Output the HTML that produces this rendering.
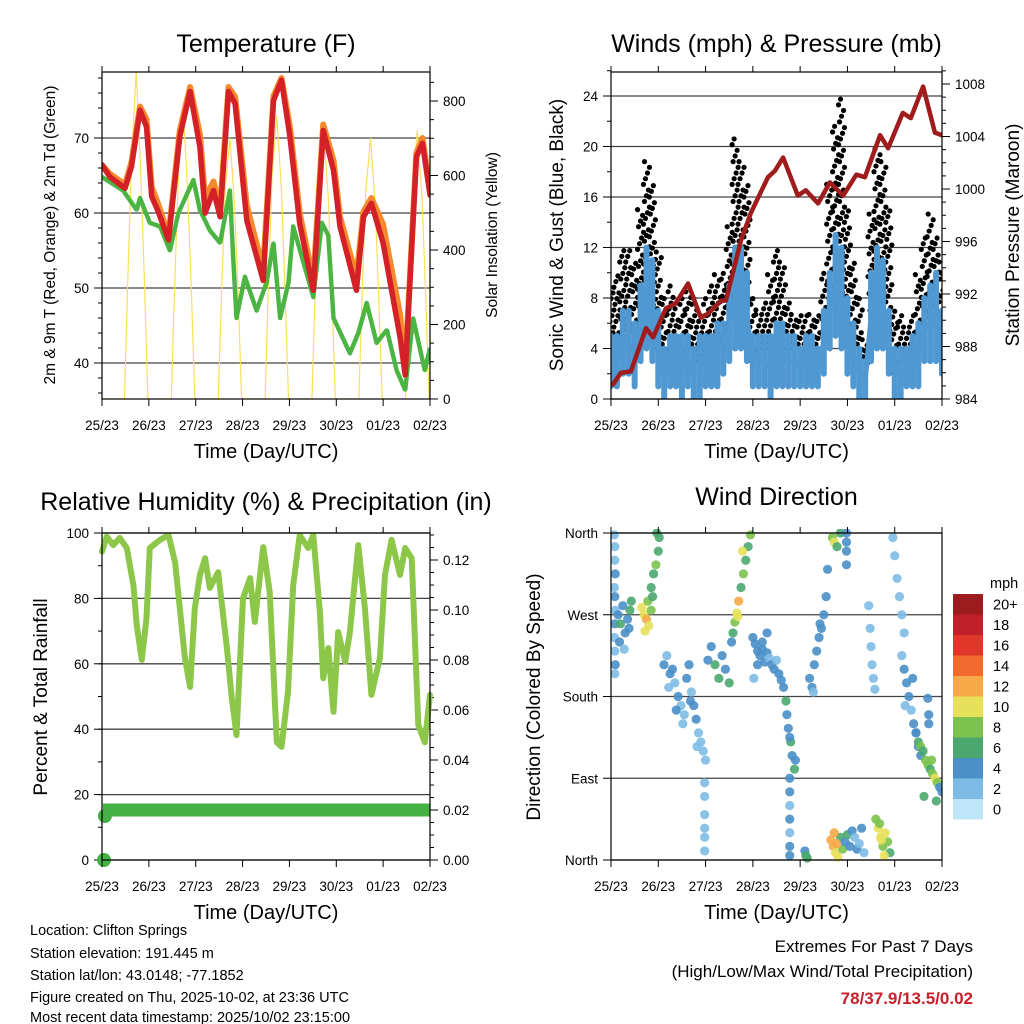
<!DOCTYPE html>
<html><head><meta charset="utf-8">
<style>
html,body{margin:0;padding:0;background:#fff;}
svg{display:block;font-family:"Liberation Sans",Arial,sans-serif;}
</style></head>
<body>
<svg id="chart" width="1024" height="1024" viewBox="0 0 1024 1024" xmlns="http://www.w3.org/2000/svg">
<g id="layer"></g>
<g font-size="14.5" fill="#000">
<text x="30" y="935">Location: Clifton Springs</text>
<text x="30" y="958">Station elevation: 191.445 m</text>
<text x="30" y="980">Station lat/lon: 43.0148; -77.1852</text>
<text x="30" y="1002">Figure created on Thu, 2025-10-02, at 23:36 UTC</text>
<text x="30" y="1024" dy="-2">Most recent data timestamp: 2025/10/02 23:15:00</text>
</g>
<g text-anchor="end">
<text x="973" y="952" font-size="17">Extremes For Past 7 Days</text>
<text x="973" y="977" font-size="17">(High/Low/Max Wind/Total Precipitation)</text>
<text x="973" y="1004" font-size="17" font-weight="bold" fill="#c8202a">78/37.9/13.5/0.02</text>
</g>
</svg>
<script>
// ---------- DATA ----------
const dayLabels = ["25/23","26/23","27/23","28/23","29/23","30/23","01/23","02/23"];
// Temperature (day, F)
const redDays = [0,0.17,0.49,0.63,0.81,0.95,1.06,1.2,1.42,1.66,1.88,2.09,2.2,2.38,2.52,2.7,2.84,3.09,3.44,3.66,3.83,4.01,4.22,4.51,4.72,4.94,5.08,5.43,5.58,5.75,6.0,6.36,6.47,6.71,6.84,7.0];
const redTemps = [66.4,64.8,63.3,66.2,73.7,71.5,62.2,60.2,56.4,70.2,76.2,68.8,60,63,59.5,76.2,74.6,59,51,75,77.7,70.2,58.6,49.7,71,65.7,58.2,49.7,59.5,61.3,56,43.5,38.4,67.5,69.3,62.4];
const orangeTemps = [66.4,65.2,63.8,66.8,74.2,72.5,63.5,61.2,57,71,76.8,70.5,62,64.2,60.5,76.8,75.5,61,52.5,75.6,78,71.5,60,51,71.8,67,59.5,51.5,60.2,62,58.5,46.5,39.5,68,70,63];
const greenDays = [0,0.45,0.74,0.81,1.02,1.24,1.45,1.63,1.95,2.09,2.3,2.52,2.73,2.8,2.87,3.05,3.3,3.51,3.66,3.8,3.98,4.08,4.51,4.69,4.83,4.94,5.29,5.47,5.65,5.86,6.08,6.29,6.47,6.64,6.89,7.0];
const greenTemps = [64.8,63,60.4,62,58.7,58.2,55,60,64.4,60.4,57.7,56,63,54,46,51.5,47,50.7,56,46,50.7,58.2,48.8,58.7,57,46,41.3,44,48,42.7,44.4,39,36.4,46,39,42];
const solarDays = [0,0.48,0.55,0.63,0.73,0.83,0.91,0.98,1.48,1.55,1.63,1.73,1.83,1.91,1.98,2.48,2.55,2.63,2.73,2.83,2.91,2.98,3.48,3.55,3.63,3.73,3.83,3.91,3.98,4.48,4.55,4.63,4.73,4.83,4.91,4.98,5.48,5.55,5.63,5.73,5.83,5.91,5.98,6.48,6.55,6.63,6.73,6.83,6.91,6.98,7.0];
const solarVals = [0,0,320,640,880,600,300,0,0,300,600,780,560,280,0,0,280,560,700,520,260,0,0,300,600,760,560,280,0,0,290,580,720,540,270,0,0,280,560,700,520,260,0,0,290,580,720,540,270,0,0];
// Winds
const windDays = [0,0.125,0.25,0.375,0.5,0.625,0.75,0.875,1,1.125,1.25,1.375,1.5,1.625,1.75,1.875,2,2.125,2.25,2.375,2.5,2.625,2.75,2.875,3,3.125,3.25,3.375,3.5,3.625,3.75,3.875,4,4.125,4.25,4.375,4.5,4.625,4.75,4.875,5,5.125,5.25,5.375,5.5,5.625,5.75,5.875,6,6.125,6.25,6.375,6.5,6.625,6.75,6.875,7];
const windLow = [1,1,2,2,1,3,4,3,1,0,1,1,0,1,0,0,1,1,1,2,3,4,4,3,1,1,1,0,1,1,1,1,1,1,1,1,2,4,5,4,2,1,0,0,3,4,4,2,0,0,1,1,1,3,3,3,2];
const windHigh = [5,5,7,7,6,9,12,11,7,4,5,5,5,5,4,5,5,5,6,6,9,12,12,10,5,5,5,5,6,6,5,5,4,5,5,4,7,10,13,12,8,6,4,3,10,12,11,7,4,4,4,5,6,8,9,10,7];
const gustLow = [3,3,5,5,4,6,8,7,4,3,4,4,3,4,3,3,3,4,4,5,6,8,8,7,3,4,4,4,5,5,4,4,3,3,4,3,5,8,9,8,5,4,3,2,7,9,8,5,2,3,3,3,4,6,7,6,5];
const gustHigh = [9,10,12,12,11,15,19,17,12,8,9,8,8,9,8,7,8,9,10,10,14,21,19,17,8,7,8,10,12,11,8,7,7,7,7,7,10,17,22,24,15,11,8,5,15,20,19,15,7,7,6,7,10,13,15,13,11];
const presDays = [0.04,0.21,0.42,0.74,0.89,1.16,1.37,1.63,1.9,2.05,2.33,2.43,2.75,2.96,3.32,3.47,3.64,3.95,4.12,4.38,4.63,4.91,5.19,5.37,5.69,5.86,6.17,6.34,6.6,6.85,7.0];
const presVals = [985.1,986,986.1,989.4,988.7,990.9,991.3,992.8,990.2,990.5,991.5,991.5,996.1,998.2,1000.9,1001.4,1002.4,999.5,999.9,998.9,1000.5,999.5,1001.1,1000.9,1004.1,1003.1,1005.8,1005.4,1007.8,1004.3,1004.1];
// RH
const rhDays = [0,0.1,0.24,0.38,0.53,0.67,0.74,0.85,0.95,1.02,1.24,1.42,1.56,1.66,1.77,1.88,1.98,2.09,2.2,2.3,2.48,2.66,2.77,2.87,3.01,3.16,3.26,3.44,3.58,3.73,3.83,3.97,4.08,4.22,4.4,4.51,4.65,4.72,4.83,4.94,5.04,5.19,5.29,5.47,5.61,5.75,5.93,6.04,6.18,6.36,6.47,6.61,6.75,6.89,7.0];
const rhVals = [94.3,98.9,96.3,98.5,95.4,84,71.9,61.2,74,95.4,97.9,99.4,91,77,61.8,52.9,77,87.2,92.3,83.2,88,65.7,49.5,38.2,80,86.2,72.8,95.7,82,36,34.6,51.4,84,99.4,95.4,99.4,75.8,55.6,64.8,45.3,69.7,60.6,69.7,96.3,77,50.5,61.8,87.2,97.9,87.2,95.4,92.3,41.3,36,50.5];
const precipDays = [0,0.02,7.0];
const precipVals = [0,0.02,0.02];
// Wind direction scatter
const dirDays = [0.07,0.08,0.08,0.09,0.07,0.08,0.09,0.08,0.07,0.08,0.09,0.08,
0.15,0.2,0.25,0.3,0.35,0.4,0.43,0.18,0.28,0.38,
0.65,0.7,0.75,0.8,0.85,0.72,0.78,0.88,
0.85,0.9,0.95,1.0,1.02,0.97,
1.12,1.18,1.25,1.3,1.35,1.42,1.48,1.55,1.6,1.65,1.7,1.75,1.8,1.85,1.9,1.95,2.0,1.22,1.38,1.52,1.68,1.82,
1.98,1.98,1.98,1.98,1.98,1.98,
2.05,2.12,2.2,2.28,2.35,2.42,2.5,2.55,
2.58,2.62,2.66,2.7,2.75,2.8,2.85,2.9,2.95,2.68,2.78,
3.0,3.05,3.1,3.15,3.2,3.25,3.3,3.35,3.4,3.45,3.5,3.55,3.6,3.1,3.2,3.3,3.02,
3.65,3.7,3.72,3.75,3.8,3.83,3.88,3.78,3.9,
3.78,3.78,3.78,3.78,3.78,3.78,3.78,
4.2,4.25,4.3,4.35,4.4,4.45,4.5,4.55,4.58,4.28,4.42,
4.1,4.12,4.15,
4.68,4.72,4.78,4.85,
4.65,4.7,4.75,4.8,4.85,4.9,4.72,4.78,
4.95,5.0,5.05,5.1,5.15,5.2,5.25,5.3,5.35,
5.6,5.65,5.7,5.75,5.8,5.85,5.9,5.68,5.78,5.72,
4.98,4.98,4.98,4.98,
5.45,5.48,5.5,5.52,5.55,5.58,
5.96,6.0,6.05,6.1,6.15,6.2,
6.15,6.2,6.25,6.3,6.35,6.4,6.45,6.5,6.55,6.22,6.38,
6.45,6.5,6.55,6.6,6.65,6.7,6.75,6.8,6.85,6.9,6.95,7.0,6.62,6.78,6.88,
6.7,6.72,6.72];
const dirDegs = [358,345,330,315,300,290,275,260,245,230,215,205,
270,260,280,250,265,275,285,240,232,255,
278,270,265,258,275,252,285,290,
300,315,325,340,355,360,
215,225,205,210,195,180,170,160,200,215,185,170,155,140,130,120,110,190,165,150,175,125,
85,70,50,35,25,10,
220,235,215,200,225,210,195,240,
250,262,272,285,300,315,330,345,358,268,340,
245,238,230,225,232,218,228,222,215,210,220,205,198,215,240,250,200,
190,175,160,145,130,115,100,135,110,
90,75,60,45,30,15,5,
200,190,215,230,245,255,270,290,320,185,260,
10,5,2,
355,350,345,360,
22,15,8,3,25,12,30,18,
20,28,15,32,25,12,18,35,8,
45,35,25,15,30,20,8,40,5,22,
360,350,340,325,
280,255,235,215,200,188,
355,335,310,290,270,250,
225,210,195,180,165,150,140,125,115,170,200,
140,130,125,120,110,105,100,95,90,85,80,75,70,110,65,
178,160,150];
const dirSpeeds = [3,2,3,4,3,4,3,4,3,2,4,3,
4,6,5,4,4,6,7,4,3,5,
10,11,12,10,9,11,8,7,
7,6,8,6,7,6,
4,3,4,4,3,4,2,3,4,4,3,4,4,2,2,3,2,2,4,2,4,2,
2,2,2,2,2,2,
4,4,6,6,4,4,6,5,
6,8,10,12,6,8,7,7,8,11,10,
4,4,4,4,4,4,4,3,4,4,2,4,4,4,4,4,2,
4,6,4,4,6,4,6,4,4,
4,4,3,4,2,4,4,
4,4,4,4,4,4,4,4,4,2,4,
4,6,6,
8,10,6,6,
12,12,11,10,6,8,13,12,
4,6,4,4,3,4,2,4,3,
8,10,10,8,10,9,6,9,10,11,
4,4,4,4,
2,2,2,2,2,2,
2,2,2,2,2,2,
3,4,4,4,2,4,4,4,4,2,4,
4,6,8,6,8,8,6,8,10,8,4,4,6,8,6,
4,4,4];
const legendLabels = ["20+","18","16","14","12","10","8","6","4","2","0"];
const legendColors = ["#9b1b1e","#c0202a","#e0372a","#f26a2d","#f7a848","#e7e05a","#7cc24e","#4aa86f","#4a8fc8","#7dbbe6","#bfe6f8"];

// ---------- DRAWING ----------
const NS = "http://www.w3.org/2000/svg";
const layer = document.getElementById("layer");
function mk(tag, attrs, parent){
  const e = document.createElementNS(NS, tag);
  for (const k in attrs) e.setAttribute(k, attrs[k]);
  (parent||layer).appendChild(e);
  return e;
}
function txt(x,y,s,size,anchor,parent,rot){
  const t = mk("text",{x:x,y:y,"font-size":size,"text-anchor":anchor||"middle",fill:"#000"},parent);
  if (rot) t.setAttribute("transform","rotate(-90 "+x+" "+y+")");
  t.textContent = s;
  return t;
}
function scale(d0,d1,r0,r1){ return v => r0 + (v-d0)*(r1-r0)/(d1-d0); }

function panel(name, box, title, titleY){
  const g = mk("g",{});
  
  
  const t = txt((box.x0+box.x1)/2, titleY, title, 25, "middle", g);
  
  
  return g;
}
function frame(g, box, name){
  const r = mk("rect",{x:box.x0,y:box.y0,width:box.x1-box.x0,height:box.y1-box.y0,fill:"none",stroke:"#000","stroke-width":1.2},g);
  
  
}
function xAxis(g, box, sx, name){
  const ax = mk("g",{},g);
  
  
  dayLabels.forEach((lab,i)=>{
    const x = sx(i);
    mk("line",{x1:x,y1:box.y1,x2:x,y2:box.y1+7,stroke:"#000","stroke-width":1},ax);
    mk("line",{x1:x,y1:box.y0,x2:x,y2:box.y0-6,stroke:"#000","stroke-width":1},ax);
    const t = txt(x, box.y1+31, lab, 13.5, "middle", ax);
    
    
  });
  const xl = txt((box.x0+box.x1)/2, box.y1+59, "Time (Day/UTC)", 20, "middle", ax);
  
  
}
function yAxis(g, box, sy, ticks, labels, minors, side, name, grid){
  const ax = mk("g",{},g);
  
  
  const xe = side==="left"?box.x0:box.x1, dir = side==="left"?-1:1;
  minors.forEach(v=>{ const y=sy(v); mk("line",{x1:xe,y1:y,x2:xe+dir*4,y2:y,stroke:"#000","stroke-width":1},ax); });
  ticks.forEach((v,i)=>{
    const y = sy(v);
    if (grid) mk("line",{x1:box.x0,y1:y,x2:box.x1,y2:y,stroke:"#222","stroke-width":1.3,"stroke-opacity":0.85},ax);
    mk("line",{x1:xe,y1:y,x2:xe+dir*8,y2:y,stroke:"#000","stroke-width":1},ax);
    const t = txt(xe+dir*13, y+5, labels[i], 13.5, side==="left"?"end":"start", ax);
    
    
  });
}
function range(a,b,s){ const r=[]; for(let v=a; v<=b+1e-9; v+=s) r.push(+v.toFixed(4)); return r; }
function poly(g, xs, ys, sx, sy, stroke, w, name){
  const pts = xs.map((d,i)=>sx(d).toFixed(1)+","+sy(ys[i]).toFixed(1)).join(" ");
  const p = mk("polyline",{points:pts,fill:"none",stroke:stroke,"stroke-width":w,"stroke-linejoin":"round","stroke-linecap":"round"},g);
  
  
  return p;
}

// Panel 1: Temperature
(function(){
  const box={x0:102,x1:430,y0:72,y1:399};
  const g = panel("temperature-panel", box, "Temperature (F)", 52);
  const sx = scale(0,7,box.x0,box.x1);
  const sy = scale(70,40,138,363);
  const sy2 = scale(0,800,399,101);
  const clip = mk("clipPath",{id:"c1"},g); mk("rect",{x:box.x0,y:box.y0,width:box.x1-box.x0,height:box.y1-box.y0},clip);
  yAxis(g, box, sy, [40,50,60,70], ["40","50","60","70"], range(36,78,2), "left", "temperature-y-axis", true);
  yAxis(g, box, sy2, [0,200,400,600,800], ["0","200","400","600","800"], range(0,850,50), "right", "solar-y-axis", false);
  const d = mk("g",{"clip-path":"url(#c1)"},g);
  poly(d, solarDays, solarVals, sx, sy2, "#f8e05a", 1.2, "solar-insolation-line");
  poly(d, greenDays, greenTemps, sx, sy, "#4bb543", 4.5, "dewpoint-line").setAttribute("stroke-dasharray","3 1.5");
  poly(d, redDays, orangeTemps, sx, sy, "#f58a2c", 6, "temp-9m-line");
  poly(d, redDays, redTemps, sx, sy, "#d42027", 5.5, "temp-2m-line");
  frame(g, box, "temperature");
  xAxis(g, box, sx, "temperature");
  const l = txt(55, 235, "2m & 9m T (Red, Orange) & 2m Td (Green)", 15.5, "middle", g, true);
   
  const r = txt(497, 235, "Solar Insolation (Yellow)", 15.5, "middle", g, true);
   
})();

// Panel 2: Winds
(function(){
  const box={x0:611,x1:942,y0:72,y1:399};
  const g = panel("winds-panel", box, "Winds (mph) & Pressure (mb)", 52);
  const sx = scale(0,7,box.x0,box.x1);
  const sy = scale(0,24,399,96);
  const sy2 = scale(984,1008,399,84);
  const clip = mk("clipPath",{id:"c2"},g); mk("rect",{x:box.x0,y:box.y0,width:box.x1-box.x0,height:box.y1-box.y0},clip);
  yAxis(g, box, sy, [0,4,8,12,16,20,24], ["0","4","8","12","16","20","24"], range(0,26,2), "left", "wind-y-axis", true);
  yAxis(g, box, sy2, [984,988,992,996,1000,1004,1008], ["984","988","992","996","1000","1004","1008"], range(984,1009,1), "right", "pressure-y-axis", false);
  const d = mk("g",{"clip-path":"url(#c2)"},g);
  windDays.forEach((t,i)=>{
    let k = 0;
    for (let v=gustLow[i]; v<=gustHigh[i]+1e-6; v+=0.45){
      k++;
      const c = mk("circle",{cx:sx(t)+((k*37)%7-3),cy:sy(v),r:2.6,fill:"#000"},d);
      
      
    }
  });
  windDays.forEach((t,i)=>{
    const b = mk("line",{x1:sx(t),x2:sx(t),y1:sy(windLow[i]),y2:sy(windHigh[i]),stroke:"#4f98d2","stroke-width":6,"stroke-linecap":"round"},d);
    
    
  });
  poly(d, windDays, windLow.map((v,i)=>(v+windHigh[i])/2), sx, sy, "#4f98d2", 5, "sonic-wind-line");
  poly(d, presDays, presVals, sx, sy2, "#a01c1c", 4.5, "pressure-line");
  frame(g, box, "winds");
  xAxis(g, box, sx, "winds");
  const l = txt(563, 235, "Sonic Wind & Gust (Blue, Black)", 19, "middle", g, true);
   
  const r = txt(1019, 235, "Station Pressure (Maroon)", 19, "middle", g, true);
   
})();

// Panel 3: RH & precip
(function(){
  const box={x0:102,x1:430,y0:533,y1:860};
  const g = panel("humidity-panel", box, "Relative Humidity (%) & Precipitation (in)", 510);
  const sx = scale(0,7,box.x0,box.x1);
  const sy = scale(0,100,860,533);
  const sy2 = scale(0,0.12,860,560);
  const clip = mk("clipPath",{id:"c3"},g); mk("rect",{x:box.x0-8,y:box.y0,width:box.x1-box.x0+16,height:box.y1-box.y0+8},clip);
  yAxis(g, box, sy, [0,20,40,60,80,100], ["0","20","40","60","80","100"], range(0,100,10), "left", "rh-y-axis", true);
  yAxis(g, box, sy2, [0,0.02,0.04,0.06,0.08,0.1,0.12], ["0.00","0.02","0.04","0.06","0.08","0.10","0.12"], range(0,0.13,0.005), "right", "precip-y-axis", false);
  const d = mk("g",{"clip-path":"url(#c3)"},g);
  poly(d, rhDays, rhVals, sx, sy, "#8dc74a", 6, "rh-line");
  poly(d, precipDays.slice(1), precipVals.slice(1), sx, sy2, "#45b046", 13, "precip-line").setAttribute("stroke-linecap","butt");
  precipDays.slice(0,2).forEach((t,i)=>{
    const c = mk("circle",{cx:sx(t)+2,cy:sy2(precipVals[i])+(i?6:0),r:7,fill:"#45b046"},d);
    
    
  });
  frame(g, box, "humidity");
  xAxis(g, box, sx, "humidity");
  const l = txt(47, 697, "Percent & Total Rainfall", 19, "middle", g, true);
   
})();

// Panel 4: Wind direction
(function(){
  const box={x0:611,x1:942,y0:533,y1:860};
  const g = panel("wind-direction-panel", box, "Wind Direction", 505);
  const sx = scale(0,7,box.x0,box.x1);
  const sy = scale(0,360,860,533);
  const clip = mk("clipPath",{id:"c4"},g); mk("rect",{x:box.x0,y:box.y0-4,width:box.x1-box.x0,height:box.y1-box.y0+8},clip);
  yAxis(g, box, sy, [0,90,180,270,360], ["North","East","South","West","North"], [], "left", "direction-y-axis", true);
  const d = mk("g",{"clip-path":"url(#c4)"},g);
  dirDays.forEach((t,i)=>{
    const idx = 10 - Math.min(10, Math.floor(dirSpeeds[i]/2));
    const c = mk("circle",{cx:sx(t),cy:sy(dirDegs[i]),r:4.6,fill:legendColors[idx],"fill-opacity":0.9},d);
    
    
  });
  frame(g, box, "wind-direction");
  xAxis(g, box, sx, "wind-direction");
  const l = txt(540, 697, "Direction (Colored By Speed)", 19, "middle", g, true);
   
  const lg = mk("g",{},g);
  
  
  const ut = txt(990, 588, "mph", 14.5, "start", lg);
   
  legendLabels.forEach((lab,i)=>{
    const y = 594 + i*20.5;
    const r = mk("rect",{x:953,y:y,width:30,height:20.5,fill:legendColors[i]},lg);
    
    
    const t = txt(993, y+15.5, lab, 14.5, "start", lg);
    
    
  });
})();
</script>
</body></html>
